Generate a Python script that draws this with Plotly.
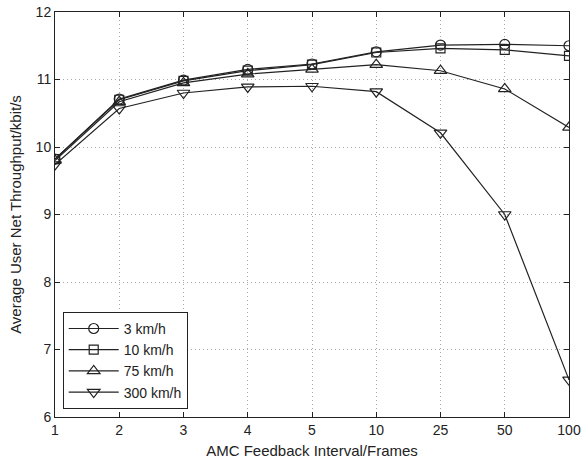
import plotly.graph_objects as go

intervals = ["1", "2", "3", "4", "5", "10", "25", "50", "100"]
v3 = [9.82, 10.71, 10.99, 11.15, 11.23, 11.41, 11.51, 11.52, 11.50]
v10 = [9.82, 10.70, 10.98, 11.13, 11.22, 11.40, 11.46, 11.44, 11.35]
v75 = [9.80, 10.67, 10.95, 11.08, 11.15, 11.22, 11.13, 10.86, 10.29]
v300 = [9.74, 10.57, 10.80, 10.89, 10.90, 10.82, 10.21, 9.00, 6.55]

names = ["3 km/h", "10 km/h", "75 km/h", "300 km/h"]
series = [v3, v10, v75, v300]
symbols = ["circle-open", "square-open", "triangle-up-open", "triangle-down-open"]
sizes = [10, 9, 11, 11]

xpos = list(range(len(intervals)))

fig = go.Figure()
for n, s, sym, sz in zip(names, series, symbols, sizes):
    fig.add_trace(go.Scatter(
        x=xpos, y=s, name=n, mode="lines+markers",
        line=dict(color="#222222", width=1.2),
        marker=dict(symbol=sym, size=sz, color="#222222", line=dict(width=1.2, color="#222222")),
    ))

axis_common = dict(
    showline=True, linecolor="#222222", linewidth=1, mirror="ticks",
    ticks="inside", ticklen=5, tickcolor="#222222",
    showgrid=True, gridcolor="#a8a8a8", griddash="1px,3px", gridwidth=1,
    zeroline=False, tickfont=dict(size=14, color="#222222"), automargin=False,
)

fig.update_layout(
    width=582, height=461,
    margin=dict(l=55, r=13, t=12, b=44),
    paper_bgcolor="white", plot_bgcolor="white",
    font=dict(family="Liberation Sans, Arial, sans-serif", size=14, color="#222222"),
    xaxis=dict(
        **axis_common, range=[0, 8], tickmode="array", tickvals=xpos, ticktext=intervals,
        title=dict(text="AMC Feedback Interval/Frames", standoff=8, font=dict(size=15)),
    ),
    yaxis=dict(
        **axis_common, range=[6, 12], tickmode="array", tickvals=[6, 7, 8, 9, 10, 11, 12],
        title=dict(text="Average User Net Throughput/kbit/s", standoff=10, font=dict(size=15)),
    ),
    legend=dict(
        x=0.015, y=0.02, xanchor="left", yanchor="bottom",
        bgcolor="white", bordercolor="#222222", borderwidth=1,
        font=dict(size=14), itemwidth=50, tracegroupgap=0,
    ),
    showlegend=True,
)

fig.write_html(
    "out.html",
    config={"displayModeBar": False},
    post_script="document.body.style.margin='0';document.body.style.padding='0';",
)
